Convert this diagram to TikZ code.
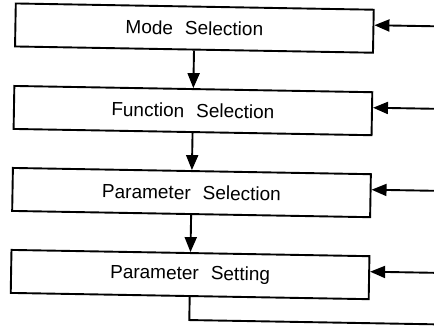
\documentclass[tikz,border=0pt]{standalone}
\usepackage{fontspec}
\setmainfont{Liberation Sans}
\usetikzlibrary{arrows.meta}
\begin{document}
\begin{tikzpicture}[x=1pt,y=-1pt,
  stepbox/.style={draw, line width=1.9pt, minimum width=358pt, minimum height=43pt,
    inner sep=0pt, font=\fontsize{19}{21}\selectfont},
  conn/.style={line width=1.9pt},
  arr/.style={conn, -{Triangle[length=15pt,width=12pt]}}]
\clip (0,0) rectangle (434,330);
\begin{scope}[rotate around={-1:(217,165)}, transform shape]
\node[stepbox] (b1) at (192,28.5) {Mode\hspace{12pt}Selection};
\node[stepbox] (b2) at (192,111) {Function\hspace{12pt}Selection};
\node[stepbox] (b3) at (192,193) {Parameter\hspace{12pt}Selection};
\node[stepbox] (b4) at (192,275) {Parameter\hspace{12pt}Setting};
\draw[arr] (b1) -- (b2);
\draw[arr] (b2) -- (b3);
\draw[arr] (b3) -- (b4);
\coordinate (r1) at (450,22.5);
\coordinate (r2) at (450,105);
\coordinate (r3) at (450,187);
\coordinate (r4) at (450,269);
\draw[arr] (r1) -- (r1 -| b1.east);
\draw[arr] (r2) -- (r2 -| b2.east);
\draw[arr] (r3) -- (r3 -| b3.east);
\draw[arr] (r4) -- (r4 -| b4.east);
\coordinate (fb) at (450,320.5);
\draw[conn] (b4.south) |- (fb);
\end{scope}
\end{tikzpicture}
\end{document}
